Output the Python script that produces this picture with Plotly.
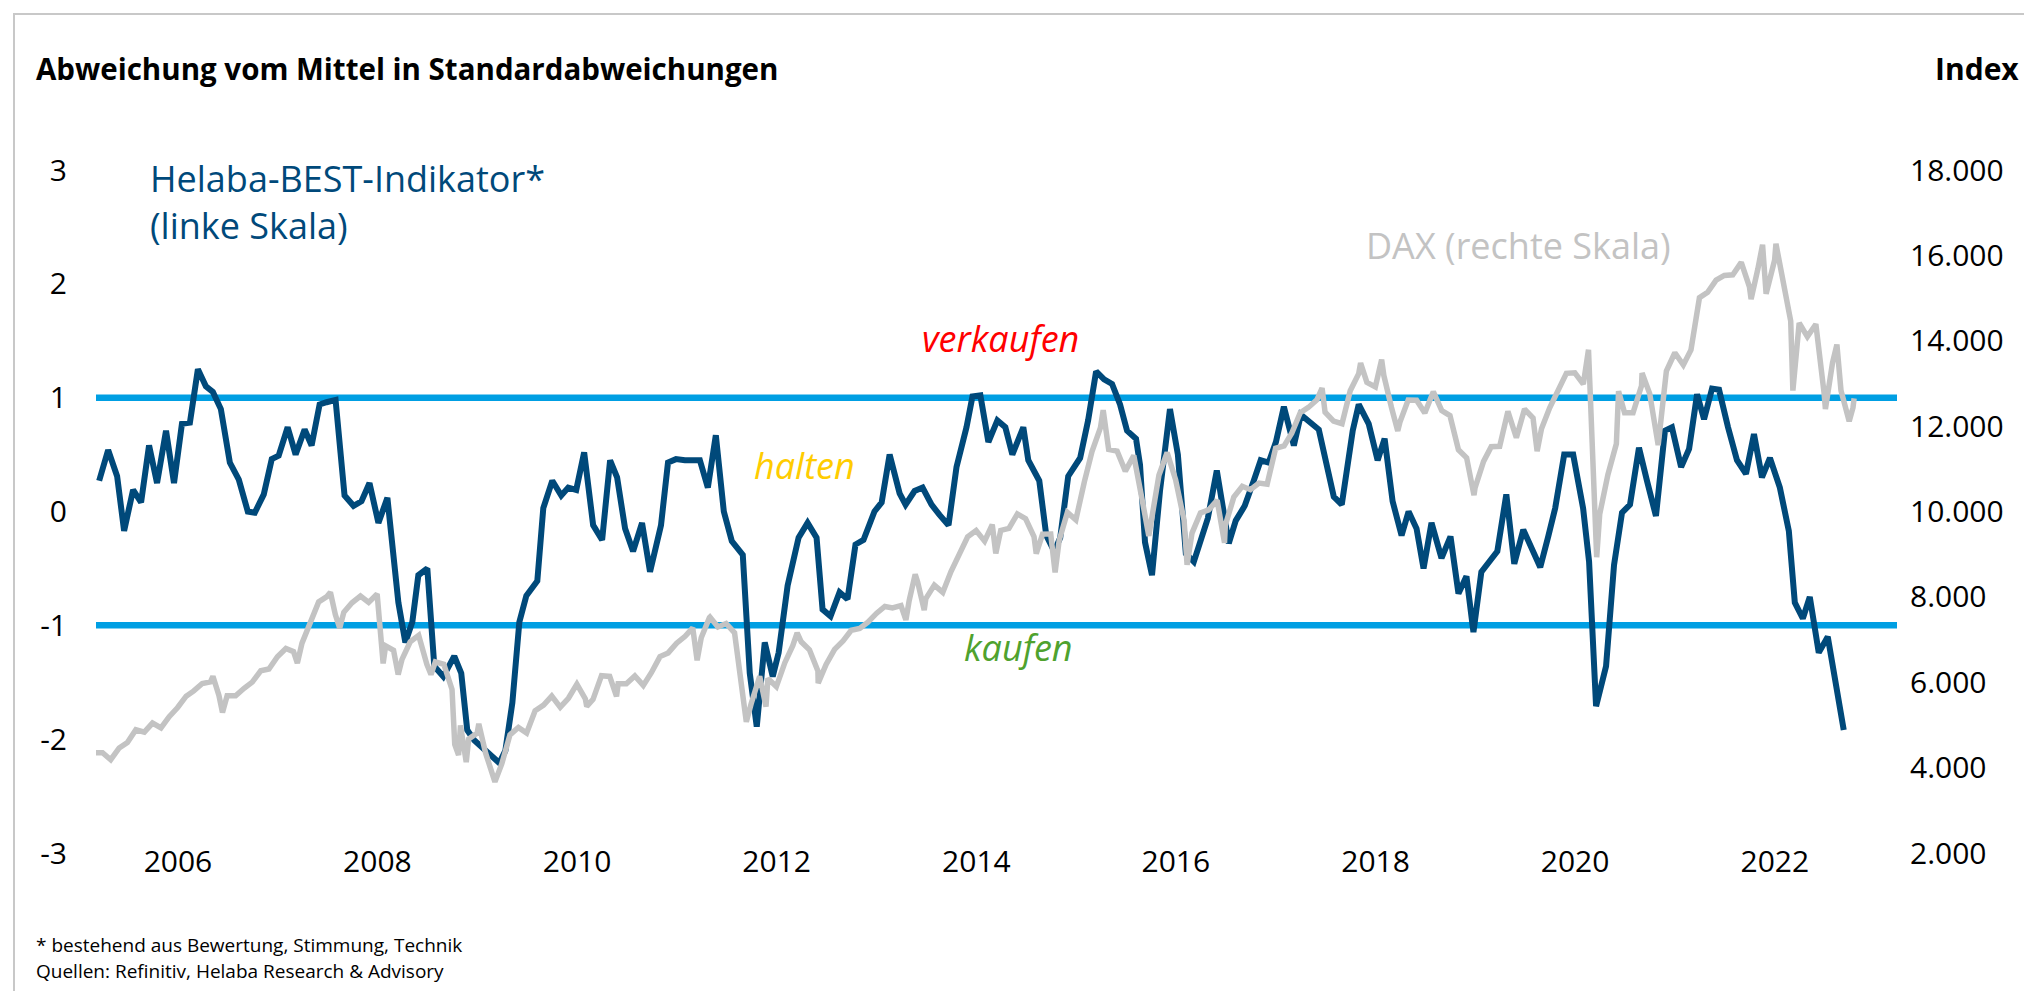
import pandas as pd
import plotly.graph_objects as go

# Helaba-BEST-Indikator (left scale): decimal year / std. deviations
best_t = [
    2005.21, 2005.30, 2005.39, 2005.46, 2005.55, 2005.63, 2005.71, 2005.79, 2005.88, 2005.96,
    2006.04, 2006.12, 2006.20, 2006.28, 2006.35, 2006.43, 2006.52, 2006.61, 2006.70, 2006.77, 2006.86, 2006.94,
    2007.01, 2007.10, 2007.18, 2007.27, 2007.34, 2007.42, 2007.49, 2007.58, 2007.67, 2007.76, 2007.84, 2007.92,
    2008.01, 2008.10, 2008.21, 2008.28, 2008.35, 2008.41, 2008.50, 2008.57, 2008.66, 2008.77, 2008.84, 2008.90, 2008.97,
    2009.04, 2009.13, 2009.22, 2009.28, 2009.35, 2009.42, 2009.49, 2009.60, 2009.66, 2009.75, 2009.84, 2009.91, 2009.99,
    2010.07, 2010.16, 2010.25, 2010.33, 2010.40, 2010.48, 2010.56, 2010.65, 2010.73, 2010.84, 2010.91, 2010.99,
    2011.08, 2011.23, 2011.31, 2011.39, 2011.47, 2011.55, 2011.66, 2011.73, 2011.80, 2011.88, 2011.96,
    2012.02, 2012.11, 2012.22, 2012.31, 2012.40, 2012.46, 2012.54, 2012.63, 2012.71, 2012.79, 2012.87, 2012.98,
    2013.05, 2013.13, 2013.23, 2013.29, 2013.38, 2013.46, 2013.55, 2013.63, 2013.72, 2013.80, 2013.90, 2013.96,
    2014.04, 2014.12, 2014.21, 2014.29, 2014.36, 2014.47, 2014.52, 2014.63, 2014.70, 2014.78, 2014.84, 2014.92,
    2015.04, 2015.12, 2015.20, 2015.28, 2015.36, 2015.44, 2015.51, 2015.60, 2015.64, 2015.69, 2015.76, 2015.84, 2015.94,
    2016.02, 2016.10, 2016.18, 2016.24, 2016.32, 2016.41, 2016.53, 2016.60, 2016.69, 2016.78, 2016.85, 2016.93,
    2017.00, 2017.08, 2017.18, 2017.25, 2017.36, 2017.43, 2017.58, 2017.66, 2017.77, 2017.83, 2017.93,
    2018.02, 2018.09, 2018.17, 2018.26, 2018.33, 2018.41, 2018.48, 2018.56, 2018.66, 2018.75, 2018.83, 2018.91, 2018.98,
    2019.06, 2019.14, 2019.22, 2019.31, 2019.39, 2019.48, 2019.57, 2019.65, 2019.73, 2019.80, 2019.89, 2019.98,
    2020.08, 2020.14, 2020.21, 2020.31, 2020.39, 2020.47, 2020.55, 2020.64, 2020.72, 2020.81, 2020.90, 2020.97,
    2021.06, 2021.14, 2021.22, 2021.29, 2021.37, 2021.44, 2021.53, 2021.62, 2021.71, 2021.79, 2021.87, 2021.95,
    2022.05, 2022.14, 2022.20, 2022.28, 2022.35, 2022.44, 2022.53, 2022.61, 2022.69,
]
best_values = [
    0.27, 0.54, 0.31, -0.17, 0.19, 0.08, 0.58, 0.25, 0.71, 0.25,
    0.77, 0.78, 1.25, 1.10, 1.05, 0.90, 0.43, 0.28, 0.00, -0.01, 0.15, 0.46,
    0.49, 0.74, 0.50, 0.72, 0.58, 0.94, 0.96, 0.98, 0.14, 0.05, 0.09, 0.25,
    -0.10, 0.12, -0.80, -1.15, -0.97, -0.56, -0.50, -1.36, -1.45, -1.27, -1.42, -1.92, -2.01,
    -2.07, -2.14, -2.21, -2.10, -1.68, -0.97, -0.74, -0.61, 0.03, 0.27, 0.14, 0.21, 0.19,
    0.52, -0.12, -0.25, 0.45, 0.30, -0.15, -0.35, -0.10, -0.53, -0.12, 0.43, 0.46,
    0.45, 0.45, 0.21, 0.67, 0.00, -0.26, -0.38, -1.42, -1.89, -1.15, -1.45,
    -1.24, -0.65, -0.23, -0.10, -0.23, -0.86, -0.92, -0.71, -0.77, -0.29, -0.25, 0.00,
    0.08, 0.50, 0.16, 0.06, 0.18, 0.21, 0.06, -0.03, -0.12, 0.39, 0.74, 1.01,
    1.02, 0.61, 0.80, 0.74, 0.50, 0.74, 0.45, 0.27, -0.21, -0.35, -0.23, 0.31,
    0.47, 0.80, 1.23, 1.16, 1.12, 0.94, 0.71, 0.64, 0.41, -0.27, -0.56, 0.18, 0.90,
    0.50, -0.37, -0.44, -0.26, -0.06, 0.36, -0.28, -0.08, 0.05, 0.27, 0.45, 0.43,
    0.61, 0.92, 0.58, 0.85, 0.78, 0.72, 0.13, 0.06, 0.71, 0.94, 0.77,
    0.45, 0.64, 0.09, -0.21, 0.00, -0.15, -0.50, -0.10, -0.41, -0.22, -0.72, -0.57, -1.06,
    -0.53, -0.43, -0.35, 0.15, -0.46, -0.16, -0.32, -0.49, -0.22, 0.03, 0.50, 0.50,
    0.03, -0.44, -1.71, -1.36, -0.47, -0.01, 0.06, 0.56, 0.27, -0.04, 0.71, 0.74,
    0.39, 0.55, 1.03, 0.81, 1.08, 1.07, 0.74, 0.45, 0.33, 0.68, 0.30, 0.47,
    0.21, -0.17, -0.80, -0.94, -0.75, -1.24, -1.10, -1.50, -1.92,
]

# DAX (right scale): month-end closes, Feb 2005 - Sep 2022
dax_month_end = [
    4350, 4349, 4185, 4460, 4586, 4887, 4830, 5044, 4929, 5193, 5408,
    5674, 5797, 5970, 6009, 5693, 5683, 5682, 5859, 6004, 6269, 6309, 6597,
    6789, 6716, 6917, 7409, 7883, 8007, 7584, 7638, 7862, 8020, 7871, 8067,
    6851, 6748, 6535, 6949, 7097, 6418, 6479, 6422, 5831, 4988, 4669, 4810,
    4338, 3844, 4085, 4769, 4941, 4809, 5332, 5465, 5675, 5415, 5625, 5957,
    5608, 5598, 6154, 6136, 5965, 5966, 6148, 5925, 6229, 6601, 6688, 6914,
    7077, 7272, 7041, 7514, 7294, 7376, 7159, 5785, 5502, 6141, 6089, 5898,
    6458, 6856, 6947, 6761, 6264, 6416, 6772, 6970, 7216, 7260, 7405, 7612,
    7776, 7742, 7795, 7914, 8349, 7959, 8276, 8104, 8594, 9033, 9406, 9552,
    9306, 9692, 9556, 9603, 9943, 9833, 9407, 9470, 9474, 9327, 9980, 9806,
    10694, 11402, 11966, 11454, 11413, 10945, 11309, 10259, 9660, 10850, 11382, 10743,
    9798, 9495, 9966, 10039, 10263, 9680, 10337, 10592, 10511, 10665, 10640, 11481,
    11535, 11834, 12313, 12438, 12615, 12325, 12118, 12056, 12829, 13230, 13024, 12918,
    13189, 12436, 12097, 12612, 12605, 12306, 12806, 12364, 12247, 11447, 11257, 10559,
    11173, 11516, 11526, 12344, 11727, 12399, 12189, 11939, 12428, 12867, 13236, 13249,
    12982, 11890, 9936, 10862, 11587, 12311, 12313, 12945, 12761, 11556, 13291, 13719,
    13433, 13786, 15008, 15136, 15421, 15531, 15544, 15835, 15261, 15688, 15100, 15885,
    15471, 14461, 14415, 14098, 14388, 12784, 13484, 12835, 12114,
]
# intra-month highs/lows visible in the weekly line, and the last weeks
dax_extra_dates = [
    "2006-05-09", "2006-06-13", "2007-03-14", "2007-07-13", "2007-08-16",
    "2008-01-22", "2008-03-17", "2008-07-15", "2008-10-10", "2008-10-24", "2008-11-21",
    "2009-01-06", "2009-03-06", "2010-02-05", "2010-05-25",
    "2011-03-16", "2011-05-02", "2011-09-12", "2011-11-23", "2012-03-16", "2012-06-01",
    "2013-04-18", "2013-05-22", "2013-06-24", "2014-03-13", "2014-08-08", "2014-10-16",
    "2015-04-10", "2015-09-24", "2016-02-11", "2016-06-27", "2017-06-19", "2017-11-07",
    "2018-01-23", "2018-03-23", "2018-12-27", "2019-08-15",
    "2020-02-19", "2020-03-20", "2020-06-08", "2020-09-02", "2021-10-06", "2021-11-17",
    "2022-01-05", "2022-03-08", "2022-07-05", "2022-08-16", "2022-10-14", "2022-10-18",
]
dax_extra_values = [
    6140, 5292, 6448, 8105, 7270,
    6440, 6180, 6180, 4545, 4295, 4127,
    5026, 3666, 5434, 5670,
    6513, 7527, 5072, 5428, 7157, 5978,
    7460, 8530, 7690, 9017, 9010, 8572,
    12375, 9428, 8752, 9268, 12889, 13479,
    13560, 11887, 10382, 11412,
    13789, 8929, 12820, 13243, 14973, 16250,
    16271, 12832, 12401, 13910, 12438, 12650,
]

left_ticks = [-3, -2, -1, 0, 1, 2, 3]
right_ticks = [2000, 4000, 6000, 8000, 10000, 12000, 14000, 16000, 18000]
year_ticks = [2006, 2008, 2010, 2012, 2014, 2016, 2018, 2020, 2022]
signal_levels = [1, -1]

BLUE = "#00497a"
GREY = "#c3c3c3"
CYAN = "#009fe3"
FONT = "Open Sans"

# plot area in page pixels
W, H = 2032, 991
PL, PR, PT, PB = 88, 1889, 162, 845


def px(x):
    return (x - PL) / (PR - PL)


def py(y):
    return (PB - y) / (PB - PT)


def year_to_date(t):
    y = int(t)
    return pd.Timestamp(year=y, month=1, day=1) + pd.Timedelta(days=(t - y) * 365.25)


best_dates = [year_to_date(t) for t in best_t]

dax = pd.concat([
    pd.Series(dax_month_end,
              index=pd.date_range("2005-02-01", periods=len(dax_month_end), freq="MS") + pd.offsets.MonthEnd(0)),
    pd.Series(dax_extra_values, index=pd.to_datetime(dax_extra_dates)),
]).sort_index()

fig = go.Figure()

fig.add_trace(go.Scatter(
    x=best_dates, y=best_values, mode="lines",
    line=dict(color=BLUE, width=6), yaxis="y", hoverinfo="skip",
))
fig.add_trace(go.Scatter(
    x=dax.index, y=dax.values, mode="lines",
    line=dict(color=GREY, width=5.5), yaxis="y2", hoverinfo="skip",
))

# signal thresholds
for level in signal_levels:
    fig.add_shape(type="line", xref="paper", x0=0, x1=1, yref="y", y0=level, y1=level,
                  line=dict(color=CYAN, width=6.5), layer="below")

# light frame round the chart
fig.add_shape(type="rect", xref="paper", yref="paper",
              x0=px(6), x1=px(W + 20), y0=py(H + 20), y1=py(6),
              line=dict(color="#c8c8c8", width=2), layer="below")


def label(text, x, y, size, color, xanchor="left", italic=False):
    if italic:
        text = "<i>" + text + "</i>"
    fig.add_annotation(text=text, x=px(x), y=py(y), xref="paper", yref="paper",
                       xanchor=xanchor, yanchor="middle", showarrow=False,
                       font=dict(family=FONT, size=size, color=color))


label("<b>Abweichung vom Mittel in Standardabweichungen</b>", 26, 60, 29.5, "#000000")
label("<b>Index</b>", 2013, 60, 30, "#000000", xanchor="right")
label("Helaba-BEST-Indikator*", 140, 170, 36, BLUE)
label("(linke Skala)", 140, 217, 36, BLUE)
label("DAX (rechte Skala)", 1356, 237, 36, GREY)
label("verkaufen", 912, 330, 36, "#ff0000", italic=True)
label("halten", 744, 457, 36, "#ffcc00", italic=True)
label("kaufen", 954, 639, 36, "#4fa22e", italic=True)
label("* bestehend aus Bewertung, Stimmung, Technik", 26, 937, 19, "#000000")
label("Quellen: Refinitiv, Helaba Research &amp; Advisory", 26, 963, 19, "#000000")

x_start = year_to_date(2006 + (PL - 170) / 99.8)
x_end = year_to_date(2006 + (PR - 170) / 99.8)

fig.update_layout(
    width=W, height=H,
    margin=dict(l=PL, r=W - PR, t=PT, b=H - PB, pad=0),
    paper_bgcolor="white", plot_bgcolor="white",
    showlegend=False,
    font=dict(family=FONT, size=30, color="#000000"),
    xaxis=dict(
        type="date", range=[x_start, x_end],
        tickvals=[pd.Timestamp(year=y, month=1, day=1) for y in year_ticks],
        ticktext=[str(y) for y in year_ticks],
        showgrid=False, zeroline=False, showline=False, ticks="",
        tickfont=dict(size=30), ticklabelstandoff=-12,
    ),
    yaxis=dict(
        range=[-3, 3], tickvals=left_ticks, ticktext=[str(v) for v in left_ticks],
        showgrid=False, zeroline=False, showline=False, ticks="",
        tickfont=dict(size=30), ticklabelstandoff=28,
    ),
    yaxis2=dict(
        range=[2000, 18000], overlaying="y", side="right",
        tickvals=right_ticks, ticktext=[f"{v:,}".replace(",", ".") for v in right_ticks],
        showgrid=False, zeroline=False, showline=False, ticks="",
        tickfont=dict(size=30), ticklabelstandoff=12,
    ),
)

fig.write_html("out.html")
